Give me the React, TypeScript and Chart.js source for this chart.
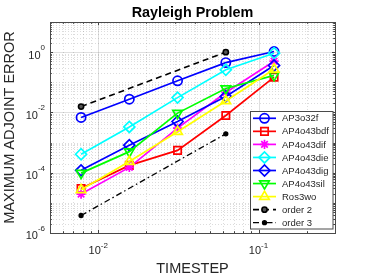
import { useEffect, useRef } from 'react';
import { Chart, registerables } from 'chart.js';
import { drawPoint } from 'chart.js/helpers';

Chart.register(...registerables);

// ---- data ----
const timesteps = [1 / 128, 1 / 64, 1 / 32, 1 / 16, 1 / 8];
const ap3o32f = [6.8e-3, 0.0275, 0.112, 0.45, 1.05];
const ap4o43bdf = [3.0e-5, 1.75e-4, 5.5e-4, 7.9e-3, 0.148];
const ap4o43dif = [1.95e-5, 1.5e-4, 3.0e-3, 0.046, 0.5];
const ap4o43die = [4.1e-4, 3.3e-3, 0.031, 0.26, 0.92];
const ap4o43dig = [1.2e-4, 8.2e-4, 5.0e-3, 0.034, 0.36];
const ap4o43sil = [9.7e-5, 5.0e-4, 9.5e-3, 0.062, 0.17];
const ros3wo = [2.7e-5, 2.35e-4, 2.3e-3, 0.024, 0.27];
const orderSteps = [1 / 128, 1 / 16];
const order2 = [1 / 64, 1];
const order3 = [3.8e-6, 1.95e-3];

const seriesNames = ['AP3o32f', 'AP4o43bdf', 'AP4o43dif', 'AP4o43die', 'AP4o43dig', 'AP4o43sil', 'Ros3wo', 'order 2', 'order 3'];

const xMajorTicks = [0.01, 0.1];
const xTickExponents = ['-2', '-1'];
const yMajorTicks = [1e-6, 1e-4, 1e-2, 1];
const yTickExponents = ['-6', '-4', '-2', '0'];

const titleText = 'Rayleigh Problem';
const xLabel = 'TIMESTEP';
const yLabel = 'MAXIMUM ADJOINT ERROR';

const X_MIN = 0.005;
const X_MAX = 0.3;
const Y_MIN = 1e-6;
const Y_MAX = 10;

type Style = {
  color: string;
  pointStyle: string;
  rotation: number;
  radius: number;
  dash: number[];
  fill: string;
  width: number;
};

const styles: Style[] = [
  { color: '#0000ff', pointStyle: 'circle', rotation: 0, radius: 4.6, dash: [], fill: 'rgba(0,0,0,0)', width: 1.7 },
  { color: '#ff0000', pointStyle: 'rect', rotation: 0, radius: 5.2, dash: [], fill: 'rgba(0,0,0,0)', width: 1.7 },
  { color: '#ff00ff', pointStyle: 'star', rotation: 0, radius: 4.6, dash: [], fill: 'rgba(0,0,0,0)', width: 1.7 },
  { color: '#00ffff', pointStyle: 'rectRot', rotation: 0, radius: 5.5, dash: [], fill: 'rgba(0,0,0,0)', width: 1.7 },
  { color: '#0000ff', pointStyle: 'rectRot', rotation: 0, radius: 5.5, dash: [], fill: 'rgba(0,0,0,0)', width: 1.7 },
  { color: '#00ff00', pointStyle: 'triangle', rotation: 180, radius: 5.5, dash: [], fill: 'rgba(0,0,0,0)', width: 1.7 },
  { color: '#ffff00', pointStyle: 'triangle', rotation: 0, radius: 5.5, dash: [], fill: 'rgba(0,0,0,0)', width: 1.7 },
  { color: '#000000', pointStyle: 'circle', rotation: 0, radius: 2.6, dash: [6, 4], fill: '#555555', width: 1.6 },
  { color: '#000000', pointStyle: 'circle', rotation: 0, radius: 2.0, dash: [6, 3, 1.5, 3], fill: '#000000', width: 1.3 },
];

const FONT = '"Liberation Sans", Arial, Helvetica, sans-serif';
const TEXT = '#262626';

function pts(xs: number[], ys: number[]) {
  return xs.map((x, i) => ({ x, y: ys[i] }));
}

const matlabPlugin = {
  id: 'matlabAxes',
  beforeDatasetsDraw(chart: any) {
    const { ctx, chartArea: a, scales } = chart;
    const xs = scales.x;
    const ys = scales.y;
    ctx.save();
    ctx.beginPath();
    ctx.rect(a.left, a.top, a.right - a.left, a.bottom - a.top);
    ctx.clip();
    // minor grid
    ctx.strokeStyle = 'rgba(38,38,38,0.16)';
    ctx.lineWidth = 1;
    ctx.setLineDash([1, 2]);
    for (let e = -3; e <= 0; e++) {
      for (let k = 1; k <= 9; k++) {
        const v = k * Math.pow(10, e);
        if (v < X_MIN * 0.999 || v > X_MAX * 1.001) continue;
        if (xMajorTicks.some((m) => Math.abs(m - v) < v * 1e-6)) continue;
        const px = Math.round(xs.getPixelForValue(v)) + 0.5;
        ctx.beginPath();
        ctx.moveTo(px, a.top);
        ctx.lineTo(px, a.bottom);
        ctx.stroke();
      }
    }
    for (let e = -6; e <= 1; e++) {
      for (let k = 1; k <= 9; k++) {
        const v = k * Math.pow(10, e);
        if (v < Y_MIN * 0.999 || v > Y_MAX * 1.001) continue;
        if (yMajorTicks.some((m) => Math.abs(m - v) < v * 1e-6)) continue;
        const py = Math.round(ys.getPixelForValue(v)) + 0.5;
        ctx.beginPath();
        ctx.moveTo(a.left, py);
        ctx.lineTo(a.right, py);
        ctx.stroke();
      }
    }
    // major grid
    ctx.setLineDash([]);
    ctx.strokeStyle = 'rgba(38,38,38,0.15)';
    xMajorTicks.forEach((v) => {
      const px = Math.round(xs.getPixelForValue(v)) + 0.5;
      ctx.beginPath();
      ctx.moveTo(px, a.top);
      ctx.lineTo(px, a.bottom);
      ctx.stroke();
    });
    yMajorTicks.forEach((v) => {
      const py = Math.round(ys.getPixelForValue(v)) + 0.5;
      ctx.beginPath();
      ctx.moveTo(a.left, py);
      ctx.lineTo(a.right, py);
      ctx.stroke();
    });
    ctx.restore();
  },
  afterDatasetsDraw(chart: any) {
    const { ctx, chartArea: a, scales } = chart;
    const xs = scales.x;
    const ys = scales.y;
    ctx.save();
    // inward ticks
    ctx.strokeStyle = '#404040';
    ctx.lineWidth = 1;
    for (let e = -3; e <= 0; e++) {
      for (let k = 1; k <= 9; k++) {
        const v = k * Math.pow(10, e);
        if (v < X_MIN * 0.999 || v > X_MAX * 1.001) continue;
        const major = xMajorTicks.some((m) => Math.abs(m - v) < v * 1e-6);
        const len = major ? 3 : 1.8;
        const px = Math.round(xs.getPixelForValue(v)) + 0.5;
        ctx.beginPath();
        ctx.moveTo(px, a.bottom);
        ctx.lineTo(px, a.bottom - len);
        ctx.moveTo(px, a.top);
        ctx.lineTo(px, a.top + len);
        ctx.stroke();
      }
    }
    for (let e = -6; e <= 1; e++) {
      for (let k = 1; k <= 9; k++) {
        const v = k * Math.pow(10, e);
        if (v < Y_MIN * 0.999 || v > Y_MAX * 1.001) continue;
        const major = yMajorTicks.some((m) => Math.abs(m - v) < v * 1e-6);
        const len = major ? 3 : 1.8;
        const py = Math.round(ys.getPixelForValue(v)) + 0.5;
        ctx.beginPath();
        ctx.moveTo(a.left, py);
        ctx.lineTo(a.left + len, py);
        ctx.moveTo(a.right, py);
        ctx.lineTo(a.right - len, py);
        ctx.stroke();
      }
    }
    // box
    ctx.strokeStyle = '#4a4a4a';
    ctx.lineWidth = 1;
    ctx.strokeRect(Math.round(a.left) + 0.5, Math.round(a.top) + 0.5, Math.round(a.right - a.left), Math.round(a.bottom - a.top));

    // tick labels
    ctx.fillStyle = TEXT;
    ctx.textBaseline = 'middle';
    const baseFont = `11px ${FONT}`;
    const expFont = `8px ${FONT}`;
    yMajorTicks.forEach((v, i) => {
      const py = ys.getPixelForValue(v);
      ctx.font = expFont;
      const ew = ctx.measureText(yTickExponents[i]).width;
      ctx.textAlign = 'right';
      ctx.fillText(yTickExponents[i], a.left - 5, py - 4.3);
      ctx.font = baseFont;
      ctx.fillText('10', a.left - 5 - ew, py + 3.4);
    });
    xMajorTicks.forEach((v, i) => {
      const px = xs.getPixelForValue(v);
      ctx.font = baseFont;
      const bw = ctx.measureText('10').width;
      ctx.font = expFont;
      const ew = ctx.measureText(xTickExponents[i]).width;
      const start = px - (bw + ew) / 2;
      ctx.textAlign = 'left';
      ctx.font = baseFont;
      ctx.fillText('10', start, a.bottom + 18);
      ctx.font = expFont;
      ctx.fillText(xTickExponents[i], start + bw, a.bottom + 12.8);
    });

    // title
    ctx.fillStyle = '#000000';
    ctx.font = `bold 14.4px ${FONT}`;
    ctx.textAlign = 'center';
    ctx.fillText(titleText, (a.left + a.right) / 2, 12.7);

    // axis labels
    ctx.fillStyle = TEXT;
    ctx.font = `14.5px ${FONT}`;
    ctx.fillText(xLabel, (a.left + a.right) / 2, 269);
    ctx.save();
    ctx.translate(9.8, (a.top + a.bottom) / 2);
    ctx.rotate(-Math.PI / 2);
    ctx.fillText(yLabel, 0, 0);
    ctx.restore();

    // legend
    const lx = 250.5;
    const ly = 111.5;
    const lw = 82.5;
    const lh = 117.5;
    ctx.fillStyle = '#ffffff';
    ctx.fillRect(lx, ly, lw, lh);
    ctx.strokeStyle = '#4a4a4a';
    ctx.lineWidth = 1;
    ctx.strokeRect(lx, ly, lw, lh);
    ctx.font = `9.5px ${FONT}`;
    ctx.textAlign = 'left';
    ctx.textBaseline = 'middle';
    seriesNames.forEach((name, i) => {
      const s = styles[i];
      const cy = 118.3 + i * 13.05;
      ctx.save();
      ctx.strokeStyle = s.color;
      ctx.lineWidth = s.width;
      ctx.setLineDash(s.dash);
      ctx.beginPath();
      ctx.moveTo(253, cy);
      ctx.lineTo(276, cy);
      ctx.stroke();
      ctx.setLineDash([]);
      ctx.fillStyle = s.fill;
      ctx.strokeStyle = s.color;
      ctx.lineWidth = s.width;
      drawPoint(ctx, { pointStyle: s.pointStyle as any, rotation: s.rotation, radius: s.radius, borderWidth: s.width } as any, 264.5, cy);
      ctx.restore();
      ctx.fillStyle = TEXT;
      ctx.fillText(name, 282, cy + 0.5);
    });
    ctx.restore();
  },
};

export default function App() {
  const ref = useRef<HTMLCanvasElement | null>(null);
  useEffect(() => {
    document.body.style.margin = '0';
    if (!ref.current) return;
    const seriesData = [
      pts(timesteps, ap3o32f),
      pts(timesteps, ap4o43bdf),
      pts(timesteps, ap4o43dif),
      pts(timesteps, ap4o43die),
      pts(timesteps, ap4o43dig),
      pts(timesteps, ap4o43sil),
      pts(timesteps, ros3wo),
      pts(orderSteps, order2),
      pts(orderSteps, order3),
    ];
    const datasets = seriesData.map((d, i) => {
      const s = styles[i];
      return {
        label: seriesNames[i],
        data: d,
        borderColor: s.color,
        backgroundColor: s.color,
        borderWidth: s.width,
        borderDash: s.dash,
        tension: 0,
        fill: false,
        pointStyle: s.pointStyle,
        pointRotation: s.rotation,
        pointRadius: s.radius,
        pointBorderWidth: s.width,
        pointBorderColor: s.color,
        pointBackgroundColor: s.fill,
        order: seriesData.length - i,
      };
    });
    const chart = new Chart(ref.current, {
      type: 'line',
      data: { datasets: datasets as any },
      options: {
        animation: false,
        responsive: false,
        devicePixelRatio: 1,
        layout: { padding: { left: 50, right: 36, top: 22, bottom: 45 } },
        plugins: { legend: { display: false }, tooltip: { enabled: false }, title: { display: false } },
        scales: {
          x: {
            type: 'logarithmic',
            min: X_MIN,
            max: X_MAX,
            ticks: { display: false },
            grid: { display: false, drawTicks: false },
            border: { display: false },
            afterFit: (s: any) => { s.height = 0; },
          },
          y: {
            type: 'logarithmic',
            min: Y_MIN,
            max: Y_MAX,
            ticks: { display: false },
            grid: { display: false, drawTicks: false },
            border: { display: false },
            afterFit: (s: any) => { s.width = 0; },
          },
        },
      },
      plugins: [matlabPlugin],
    });
    return () => chart.destroy();
  }, []);
  return <canvas ref={ref} width={371} height={278} style={{ display: 'block' }} />;
}
